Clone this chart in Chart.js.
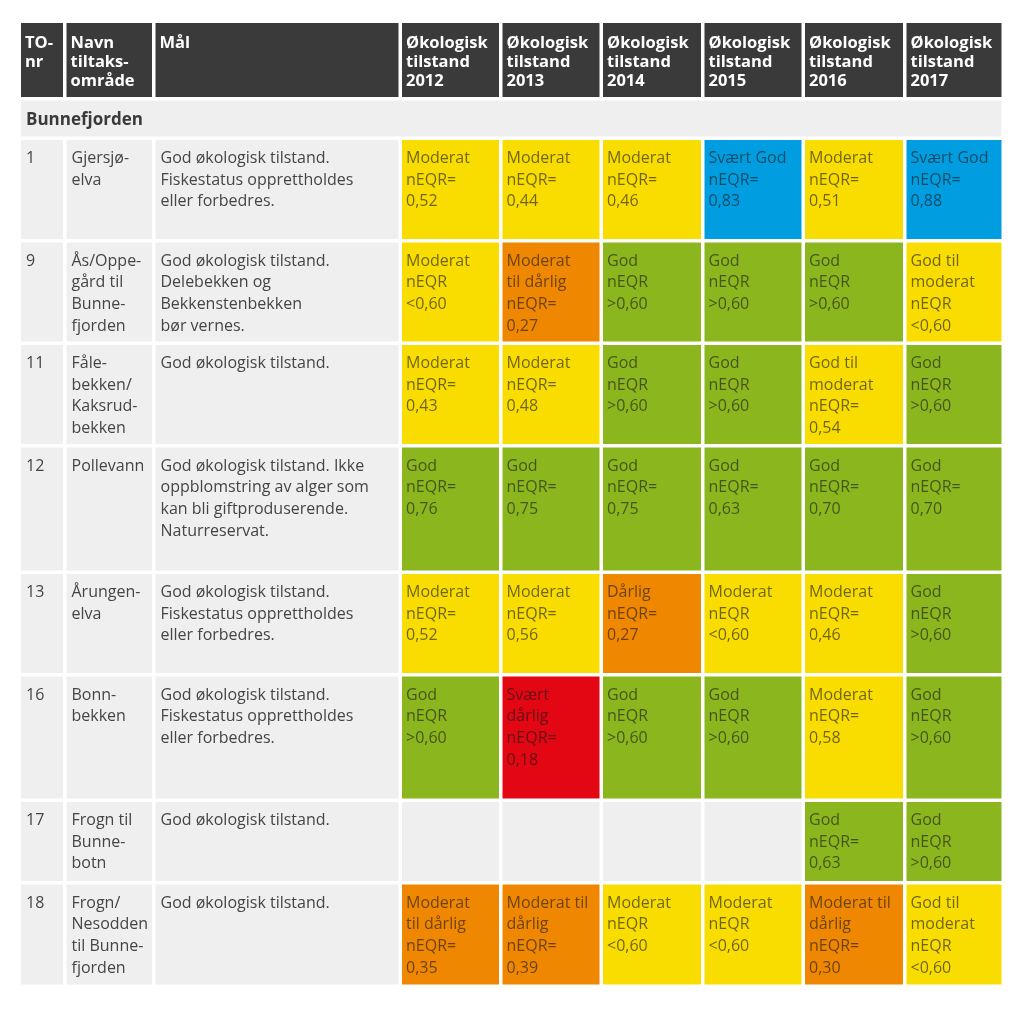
<!DOCTYPE html>
<html>
<head>
<meta charset="utf-8">
<script src="https://cdn.jsdelivr.net/npm/chart.js@4.4.1/dist/chart.umd.min.js"></script>
<style>
  html, body { margin: 0; padding: 0; background: #ffffff; }
  #wrap { width: 1024px; height: 1013px; }
</style>
</head>
<body>
<div id="wrap"><canvas id="c" width="1024" height="1013"></canvas></div>
<script>
// ---------------- DATA ----------------
const years = ['2012', '2013', '2014', '2015', '2016', '2017'];
const headers = ['TO-\nnr', 'Navn\ntiltaks-\nområde', 'Mål'].concat(years.map(y => 'Økologisk\ntilstand\n' + y));
const groupLabel = 'Bunnefjorden';
const toNr = ['1', '9', '11', '12', '13', '16', '17', '18'];
const names = [
  'Gjersjø-\nelva',
  'Ås/Oppe-\ngård til\nBunne-\nfjorden',
  'Fåle-\nbekken/\nKaksrud-\nbekken',
  'Pollevann',
  'Årungen-\nelva',
  'Bonn-\nbekken',
  'Frogn til\nBunne-\nbotn',
  'Frogn/\nNesodden\ntil Bunne-\nfjorden'
];
const goals = [
  'God økologisk tilstand.\nFiskestatus opprettholdes\neller forbedres.',
  'God økologisk tilstand.\nDelebekken og\nBekkenstenbekken\nbør vernes.',
  'God økologisk tilstand.',
  'God økologisk tilstand. Ikke\noppblomstring av alger som\nkan bli giftproduserende.\nNaturreservat.',
  'God økologisk tilstand.\nFiskestatus opprettholdes\neller forbedres.',
  'God økologisk tilstand.\nFiskestatus opprettholdes\neller forbedres.',
  'God økologisk tilstand.',
  'God økologisk tilstand.'
];
const status2012 = ['Moderat', 'Moderat', 'Moderat', 'God', 'Moderat', 'God', null, 'Moderat\ntil dårlig'];
const status2013 = ['Moderat', 'Moderat\ntil dårlig', 'Moderat', 'God', 'Moderat', 'Svært\ndårlig', null, 'Moderat til\ndårlig'];
const status2014 = ['Moderat', 'God', 'God', 'God', 'Dårlig', 'God', null, 'Moderat'];
const status2015 = ['Svært God', 'God', 'God', 'God', 'Moderat', 'God', null, 'Moderat'];
const status2016 = ['Moderat', 'God', 'God til\nmoderat', 'God', 'Moderat', 'Moderat', 'God', 'Moderat til\ndårlig'];
const status2017 = ['Svært God', 'God til\nmoderat', 'God', 'God', 'God', 'God', 'God', 'God til\nmoderat'];

const neqr2012 = ['0,52', '<0,60', '0,43', '0,76', '0,52', '>0,60', null, '0,35'];
const neqr2013 = ['0,44', '0,27', '0,48', '0,75', '0,56', '0,18', null, '0,39'];
const neqr2014 = ['0,46', '>0,60', '>0,60', '0,75', '0,27', '>0,60', null, '<0,60'];
const neqr2015 = ['0,83', '>0,60', '>0,60', '0,63', '<0,60', '>0,60', null, '<0,60'];
const neqr2016 = ['0,51', '>0,60', '0,54', '0,70', '0,46', '0,58', '0,63', '0,30'];
const neqr2017 = ['0,88', '<0,60', '>0,60', '0,70', '>0,60', '>0,60', '>0,60', '<0,60'];

const statusByYear = [status2012, status2013, status2014, status2015, status2016, status2017];
const neqrByYear = [neqr2012, neqr2013, neqr2014, neqr2015, neqr2016, neqr2017];

// ---------------- STYLE / LAYOUT ----------------
const classColors = {
  'svært god': '#009ee0',
  'god': '#8cb61e',
  'god til moderat': '#f9dd00',
  'moderat': '#f9dd00',
  'moderat til dårlig': '#ef8700',
  'dårlig': '#ef8700',
  'svært dårlig': '#e30613'
};
const headerColor = '#3a3a3a';
const greyColor = '#efefef';
const bodyText = '#454545';
const cellText = 'rgba(25,25,25,0.62)';
const colWidths = [42, 85.5, 243, 97, 97, 98, 97, 98, 95];
const headerHeight = 74;
const groupHeight = 36;
const rowHeights = [99, 99, 99, 123, 99, 122, 79, 100];
const gap = 3.5;

function edges(sizes, start) {
  const out = [];
  let p = start;
  sizes.forEach(s => { out.push([p, p + s]); p += s + gap; });
  return out;
}
const colEdges = edges(colWidths, 0);
const allRowEdges = edges([headerHeight, groupHeight].concat(rowHeights), 0);
const totalW = colEdges[colEdges.length - 1][1];
const totalH = allRowEdges[allRowEdges.length - 1][1];

// datasets: one scatter dataset per year, points at the cell centres (invisible; cells painted by plugin)
const datasets = years.map((y, yi) => ({
  label: y,
  data: toNr.map((t, ri) => ({
    x: (colEdges[3 + yi][0] + colEdges[3 + yi][1]) / 2,
    y: (allRowEdges[2 + ri][0] + allRowEdges[2 + ri][1]) / 2,
    status: statusByYear[yi][ri],
    neqr: neqrByYear[yi][ri]
  })),
  pointRadius: 0,
  pointHoverRadius: 0
}));

const tablePlugin = {
  id: 'tableCells',
  beforeDatasetsDraw(chart) {
    const ctx = chart.ctx;
    const xs = chart.scales.x, ys = chart.scales.y;
    const px = v => xs.getPixelForValue(v);
    const py = v => ys.getPixelForValue(v);
    function box(ce, re, color) {
      const x0 = px(ce[0]), x1 = px(ce[1]);
      const y0 = py(re[0]), y1 = py(re[1]);
      ctx.fillStyle = color;
      ctx.fillRect(x0, y0, x1 - x0, y1 - y0);
      return { x0, y0 };
    }
    function text(str, x, y, font, color, lh) {
      ctx.font = font;
      ctx.fillStyle = color;
      ctx.textBaseline = 'middle';
      ctx.textAlign = 'left';
      str.split('\n').forEach((line, i) => ctx.fillText(line, x, y + i * lh));
    }
    ctx.save();
    // header
    headers.forEach((h, ci) => {
      const b = box(colEdges[ci], allRowEdges[0], headerColor);
      text(h, b.x0 + 4, b.y0 + 20.5, 'bold 16.5px "Open Sans"', '#ffffff', 19);
    });
    // group band
    const gb = box([colEdges[0][0], colEdges[colEdges.length - 1][1]], allRowEdges[1], greyColor);
    text(groupLabel, gb.x0 + 5, gb.y0 + 19.5, 'bold 17px "Open Sans"', '#3a3a3a', 19);
    // rows
    const bodyFont = '16px "Open Sans"';
    const lh = 21.7;
    toNr.forEach((t, ri) => {
      const re = allRowEdges[2 + ri];
      let b = box(colEdges[0], re, greyColor);
      text(t, b.x0 + 5, b.y0 + 18.5, bodyFont, bodyText, lh);
      b = box(colEdges[1], re, greyColor);
      text(names[ri], b.x0 + 5, b.y0 + 18.5, bodyFont, bodyText, lh);
      b = box(colEdges[2], re, greyColor);
      text(goals[ri], b.x0 + 5, b.y0 + 18.5, bodyFont, bodyText, lh);
      years.forEach((y, yi) => {
        const pt = chart.data.datasets[yi].data[ri];
        const st = pt.status;
        const color = st ? classColors[st.replace('\n', ' ').toLowerCase()] : greyColor;
        const cb = box(colEdges[3 + yi], re, color);
        if (st) {
          const v = pt.neqr;
          const isThreshold = v.startsWith('<') || v.startsWith('>');
          const label = st + '\n' + (isThreshold ? 'nEQR\n' : 'nEQR=\n') + v;
          text(label, cb.x0 + 4, cb.y0 + 18.5, bodyFont, cellText, lh);
        }
      });
    });
    ctx.restore();
  }
};

new Chart(document.getElementById('c'), {
  type: 'scatter',
  data: { datasets },
  options: {
    responsive: false,
    animation: false,
    devicePixelRatio: 1,
    layout: { padding: { left: 21, top: 23, right: 1024 - 21 - totalW, bottom: 1013 - 23 - totalH } },
    plugins: { legend: { display: false }, tooltip: { enabled: false } },
    scales: {
      x: { type: 'linear', min: 0, max: totalW, display: false },
      y: { type: 'linear', min: 0, max: totalH, reverse: true, display: false }
    }
  },
  plugins: [tablePlugin]
});
</script>
</body>
</html>
